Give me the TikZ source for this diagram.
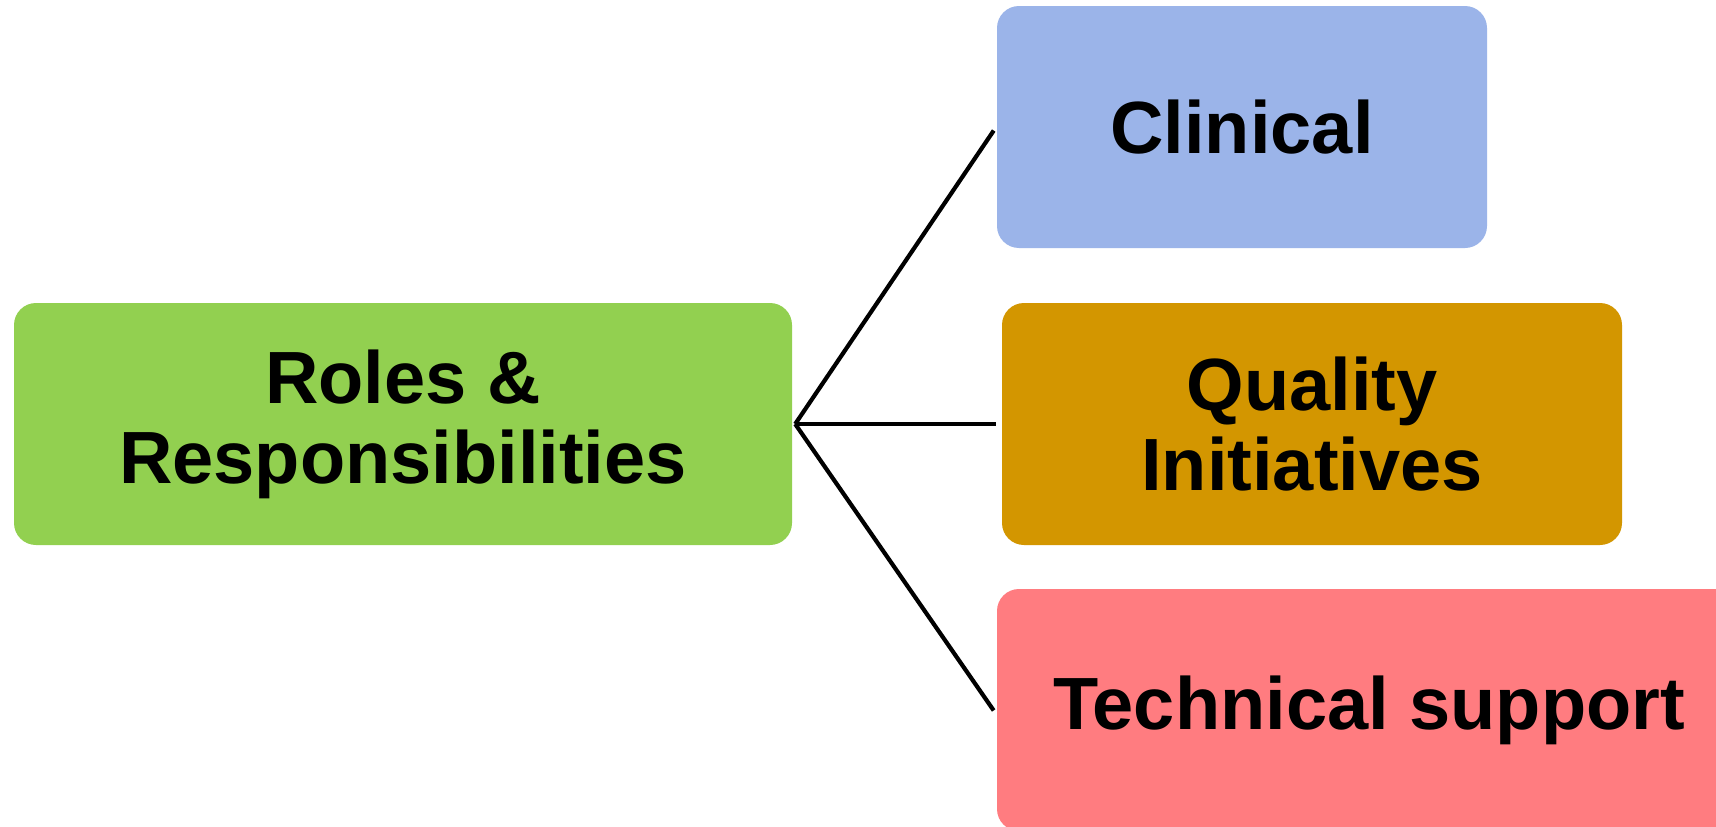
\documentclass[tikz,border=0pt]{standalone}
\usepackage{fontspec}
\setmainfont{Liberation Sans}
\definecolor{rolegreen}{HTML}{92D050}
\definecolor{clinblue}{HTML}{9BB4E9}
\definecolor{qualorange}{HTML}{D39600}
\definecolor{techred}{HTML}{FF7C80}
\begin{document}
\begin{tikzpicture}[x=1pt,y=-1pt,
  box/.style={rounded corners=22pt, draw=none, minimum height=242pt,
    inner sep=0pt, align=center,
    font=\fontsize{74}{80}\selectfont\bfseries},
  link/.style={line width=4.2pt, shorten >=5.5pt}]
  \useasboundingbox (0,0) rectangle (1716,827);
  \clip (0,0) rectangle (1716,827);
  \fill[white] (0,0) rectangle (1716,827);

  % boxes
  \node[box, fill=rolegreen, minimum width=778pt] (roles) at (403,424)
    {Roles \&\\Responsibilities};
  \node[box, fill=clinblue, minimum width=490pt] (clin) at (1242,127)
    {Clinical};
  \node[box, fill=qualorange, minimum width=620pt] (qual) at (1312,424)
    {Quality\\Initiatives};
  \node[box, fill=techred, minimum width=744pt] (tech) at (1369,710)
    {Technical support};

  % fan of connectors from the main box
  \coordinate (hub) at ([xshift=3pt]roles.east);
  \draw[link] (hub) -- ([yshift=1pt]clin.west);
  \draw[link] (hub) -- (qual.west);
  \draw[link] (hub) -- ([yshift=-5pt]tech.west);
\end{tikzpicture}
\end{document}
